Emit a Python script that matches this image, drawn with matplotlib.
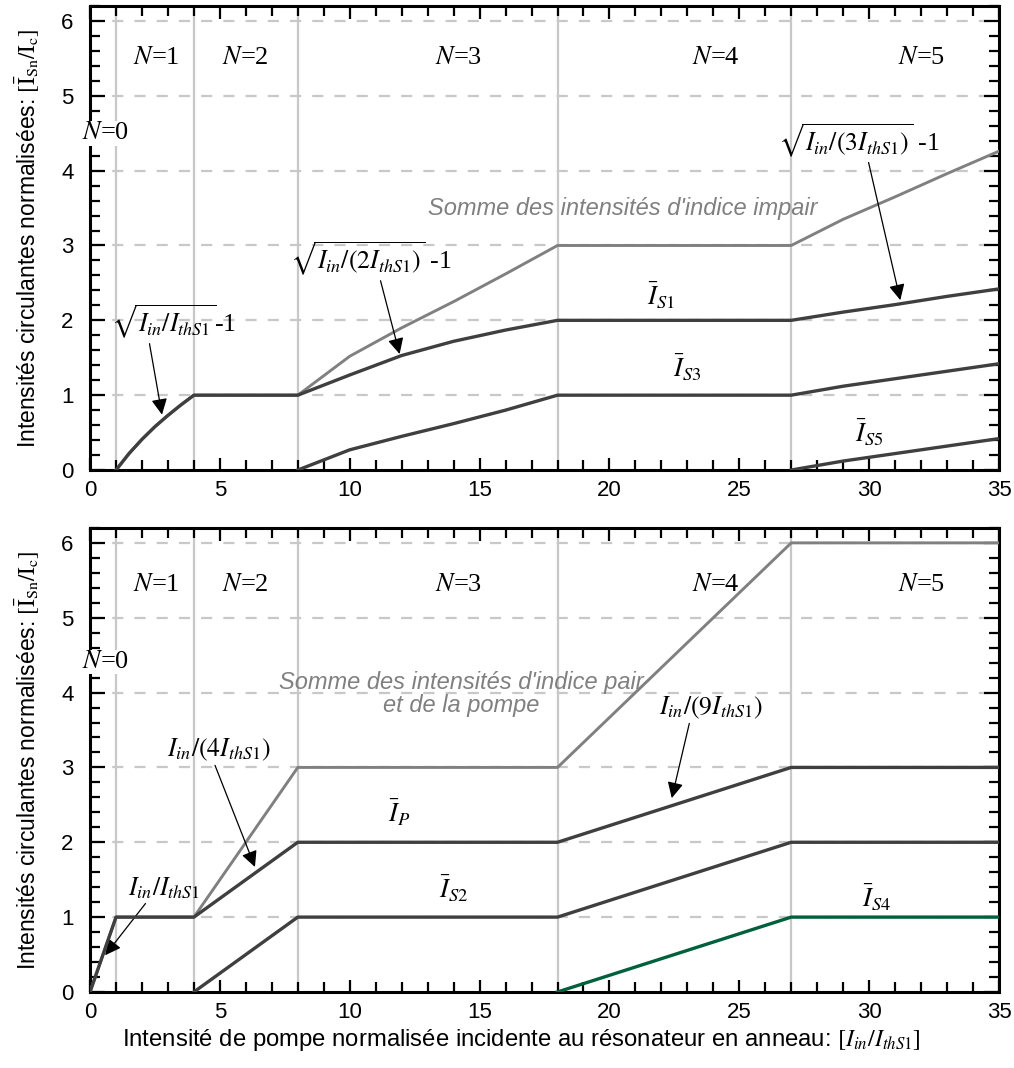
import matplotlib
matplotlib.use('Agg')
import matplotlib.pyplot as plt
from matplotlib.ticker import MultipleLocator

plt.rcParams['font.family'] = ['Liberation Sans', 'DejaVu Sans']
plt.rcParams['mathtext.fontset'] = 'stix'

# frontieres des regimes N
seuils = [1, 4, 8, 18, 27]

# --- panneau du haut : signaux d'indice impair ---
x_s1 = [1, 1.5, 2, 2.5, 3, 3.5, 4, 8, 10, 12, 14, 16, 18, 27, 29, 31, 33, 35]
i_s1 = [0, 0.22, 0.41, 0.58, 0.73, 0.87, 1.0, 1.0, 1.27, 1.53, 1.72, 1.87, 2.0, 2.0, 2.11, 2.21, 2.32, 2.42]
x_s3 = [8, 10, 12, 14, 16, 18, 27, 29, 31, 33, 35]
i_s3 = [0, 0.27, 0.45, 0.62, 0.8, 1.0, 1.0, 1.12, 1.22, 1.32, 1.42]
x_s5 = [27, 29, 31, 33, 35]
i_s5 = [0, 0.12, 0.22, 0.32, 0.42]
x_impair = [1, 1.5, 2, 2.5, 3, 3.5, 4, 8, 10, 12, 14, 16, 18, 27, 29, 31, 33, 35]
somme_impair = [0, 0.22, 0.41, 0.58, 0.73, 0.87, 1.0, 1.0, 1.52, 1.9, 2.25, 2.62, 3.0, 3.0, 3.35, 3.65, 3.96, 4.26]

# --- panneau du bas : pompe et signaux d'indice pair ---
x_p = [0, 1, 4, 8, 18, 27, 35]
i_p = [0, 1, 1, 2, 2, 3, 3]
x_pair = [0, 1, 4, 8, 18, 27, 35]
somme_pair = [0, 1, 1, 3, 3, 6, 6]
x_s2 = [4, 8, 18, 27, 35]
i_s2 = [0, 1, 1, 2, 2]
x_s4 = [18, 27, 35]
i_s4 = [0, 1, 1]

n_labels = ['$N$=1', '$N$=2', '$N$=3', '$N$=4', '$N$=5']
n_xpos = [2.55, 6.0, 14.2, 24.1, 32.0]

ylab = r'Intensités circulantes normalisées: $[\bar{\mathrm{I}}_{\mathrm{Sn}}/\mathrm{I}_{\mathrm{c}}]$'
xlab = r'Intensité de pompe normalisée incidente au résonateur en anneau: $[I_{in}/I_{thS1}]$'

GRIS = '#808080'
FONCE = '#3f3f3f'
VERT = '#00603c'
GRILLE = '#c8c8c8'
serif = ['Liberation Serif', 'DejaVu Serif']

fig = plt.figure(figsize=(10.14, 10.68), dpi=100)
ax1 = fig.add_axes([0.0888, 0.5599, 0.8964, 0.4345])
ax2 = fig.add_axes([0.0888, 0.0712, 0.8964, 0.4345])


def habiller(ax, n_y, n0_y):
    ax.set_xlim(0, 35)
    ax.set_ylim(0, 6.2)
    for s in seuils:
        ax.axvline(s, color=GRILLE, lw=1.6, zorder=1)
    for h in range(1, 7):
        ax.axhline(h, color=GRILLE, lw=1.6, ls=(0, (5, 5)), zorder=1)
    ax.xaxis.set_major_locator(MultipleLocator(5))
    ax.xaxis.set_minor_locator(MultipleLocator(1))
    ax.yaxis.set_major_locator(MultipleLocator(1))
    ax.yaxis.set_minor_locator(MultipleLocator(0.2))
    ax.tick_params(which='both', direction='in', top=True, right=True, width=1.6, labelsize=16)
    ax.tick_params(axis='x', which='major', length=9, pad=7)
    ax.tick_params(axis='x', which='minor', length=7)
    ax.tick_params(axis='y', which='major', length=11, pad=12)
    ax.tick_params(axis='y', which='minor', length=7)
    for sp in ax.spines.values():
        sp.set_linewidth(2.2)
    ax.set_ylabel(ylab, fontsize=16.5, labelpad=14)
    for lab, xp in zip(n_labels, n_xpos):
        ax.text(xp, n_y, lab, ha='center', va='center', fontsize=19, family=serif)
    ax.text(0.6, n0_y, '$N$=0', ha='center', va='center', fontsize=19, family=serif,
            bbox=dict(facecolor='white', edgecolor='none', pad=1), zorder=10, clip_on=False)


habiller(ax1, 5.5, 4.5)
habiller(ax2, 5.44, 4.41)

fleche = dict(arrowstyle='-|>', color='black', lw=0.9, mutation_scale=24, shrinkA=0, shrinkB=0)

# haut
ax1.plot(x_impair, somme_impair, color=GRIS, lw=2.1, zorder=3)
ax1.plot(x_s1, i_s1, color=FONCE, lw=2.4, zorder=4)
ax1.plot(x_s3, i_s3, color=FONCE, lw=2.4, zorder=4)
ax1.plot(x_s5, i_s5, color=FONCE, lw=2.4, zorder=4)
ax1.text(20.5, 3.49, "Somme des intensités d'indice impair", ha='center', va='center',
         fontsize=17, style='italic', color=GRIS)
ax1.annotate(r'$\sqrt{I_{in}/I_{thS1}}$-1', xy=(2.77, 0.74), xytext=(0.8, 1.98),
             fontsize=18.5, family=serif, va='center', arrowprops=dict(fleche, relpos=(0.3, 0.1)))
ax1.annotate(r'$\sqrt{I_{in}/(2I_{thS1})}$ -1', xy=(11.92, 1.55), xytext=(7.7, 2.82),
             fontsize=18.5, family=serif, va='center', arrowprops=dict(fleche, relpos=(0.55, 0.1)))
ax1.annotate(r'$\sqrt{I_{in}/(3I_{thS1})}$ -1', xy=(31.2, 2.27), xytext=(26.5, 4.4),
             fontsize=18.5, family=serif, va='center', arrowprops=dict(fleche, relpos=(0.55, 0.1)))
ax1.text(22.0, 2.33, r'$\bar{I}_{S1}$', ha='center', va='center', fontsize=19)
ax1.text(23.0, 1.37, r'$\bar{I}_{S3}$', ha='center', va='center', fontsize=19)
ax1.text(30.0, 0.5, r'$\bar{I}_{S5}$', ha='center', va='center', fontsize=19)

# bas
ax2.plot(x_pair, somme_pair, color=GRIS, lw=2.1, zorder=3)
ax2.plot(x_p, i_p, color=FONCE, lw=2.4, zorder=4)
ax2.plot(x_s2, i_s2, color=FONCE, lw=2.4, zorder=4)
ax2.plot(x_s4, i_s4, color=VERT, lw=2.4, zorder=4)
ax2.text(14.3, 3.98, "Somme des intensités d'indice pair\net de la pompe", ha='center', va='center',
         fontsize=17, style='italic', color=GRIS, linespacing=1.0)
ax2.annotate(r'$I_{in}/I_{thS1}$', xy=(0.58, 0.49), xytext=(2.85, 1.39),
             fontsize=18.5, family=serif, ha='center', va='center', arrowprops=dict(fleche, relpos=(0.3, 0.1)))
ax2.annotate(r'$I_{in}/(4I_{thS1})$', xy=(6.35, 1.67), xytext=(4.97, 3.24),
             fontsize=18.5, family=serif, ha='center', va='center', arrowprops=dict(fleche, relpos=(0.45, 0)))
ax2.annotate(r'$I_{in}/(9I_{thS1})$', xy=(22.4, 2.59), xytext=(23.9, 3.8),
             fontsize=18.5, family=serif, ha='center', va='center', arrowprops=dict(fleche, relpos=(0.3, 0)))
ax2.text(11.9, 2.39, r'$\bar{I}_{P}$', ha='center', va='center', fontsize=19)
ax2.text(14.0, 1.38, r'$\bar{I}_{S2}$', ha='center', va='center', fontsize=19)
ax2.text(30.3, 1.25, r'$\bar{I}_{S4}$', ha='center', va='center', fontsize=19)
ax2.set_xlabel(xlab, fontsize=17.2, labelpad=5)
ax2.xaxis.set_label_coords(0.474, -0.075)

fig.savefig('out.png', dpi=100)
